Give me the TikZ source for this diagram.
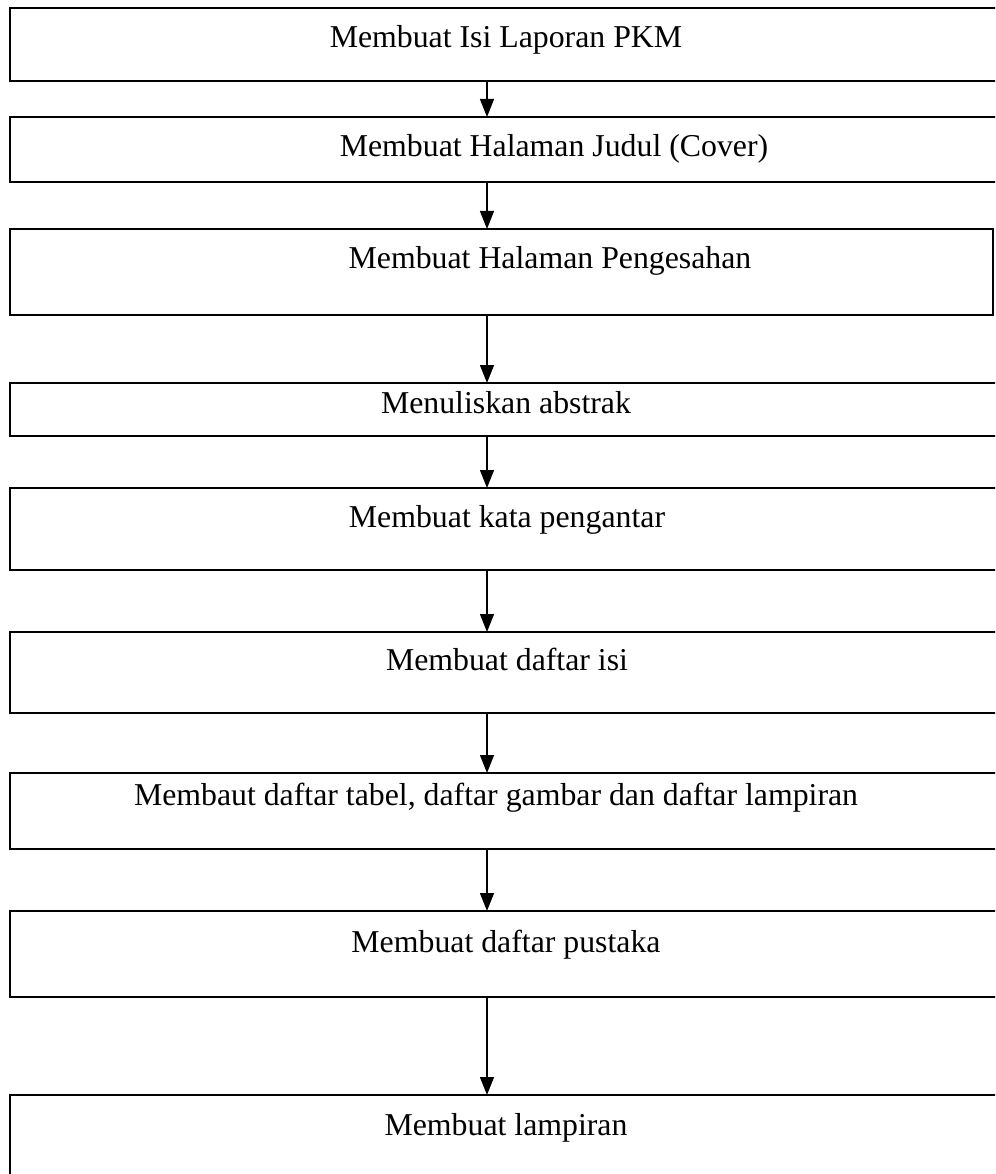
\documentclass[tikz,border=0pt]{standalone}
\usepackage{fontspec}
\setmainfont{Liberation Serif}
\usetikzlibrary{arrows.meta}
\begin{document}
\begin{tikzpicture}[x=1pt,y=-1pt,
    stepbox/.style={draw, line width=2pt, inner sep=0pt, outer sep=0pt, anchor=north west, minimum width=990pt},
    label/.style={anchor=base, inner sep=0pt, font=\fontsize{31.8}{38}\selectfont},
    arr/.style={line width=1.3pt, -{Triangle[length=18pt,width=14pt]}}]
            \useasboundingbox (0,0) rectangle (995,1174);
            \clip (0,0) rectangle (995,1174);
            % boxes
            \node[stepbox, minimum height=73pt] (b1) at (10,8) {};
            \node[stepbox, minimum height=65pt] (b2) at (10,117) {};
            \node[stepbox, minimum height=86pt, minimum width=983pt] (b3) at (10,229) {};
            \node[stepbox, minimum height=53pt] (b4) at (10,383) {};
            \node[stepbox, minimum height=82pt] (b5) at (10,488) {};
            \node[stepbox, minimum height=81pt] (b6) at (10,632) {};
            \node[stepbox, minimum height=76pt] (b7) at (10,773) {};
            \node[stepbox, minimum height=86pt] (b8) at (10,911) {};
            \node[stepbox, minimum height=95pt] (b9) at (10,1095) {};
            % texts
            \node[label] (t1) at (506,48) {Membuat Isi Laporan PKM};
            \node[label] (t2) at (554,157) {Membuat Halaman Judul (Cover)};
            \node[label] (t3) at (550,268) {Membuat Halaman Pengesahan};
            \node[label] (t4) at (506,413) {Menuliskan abstrak};
            \node[label] (t5) at (507,527) {Membuat kata pengantar};
            \node[label] (t6) at (507,670) {Membuat daftar isi};
            \node[label] (t7) at (496,805) {Membaut daftar tabel, daftar gambar dan daftar lampiran};
            \node[label] (t8) at (506,952) {Membuat daftar pustaka};
            \node[label] (t9) at (506,1135) {Membuat lampiran};
            % arrows
            \coordinate (ax) at (487,0);
            \draw[arr] (b1.south -| ax) -- (b2.north -| ax);
            \draw[arr] (b2.south -| ax) -- (b3.north -| ax);
            \draw[arr] (b3.south -| ax) -- (b4.north -| ax);
            \draw[arr] (b4.south -| ax) -- (b5.north -| ax);
            \draw[arr] (b5.south -| ax) -- (b6.north -| ax);
            \draw[arr] (b6.south -| ax) -- (b7.north -| ax);
            \draw[arr] (b7.south -| ax) -- (b8.north -| ax);
            \draw[arr] (b8.south -| ax) -- (b9.north -| ax);
\end{tikzpicture}
\end{document}
